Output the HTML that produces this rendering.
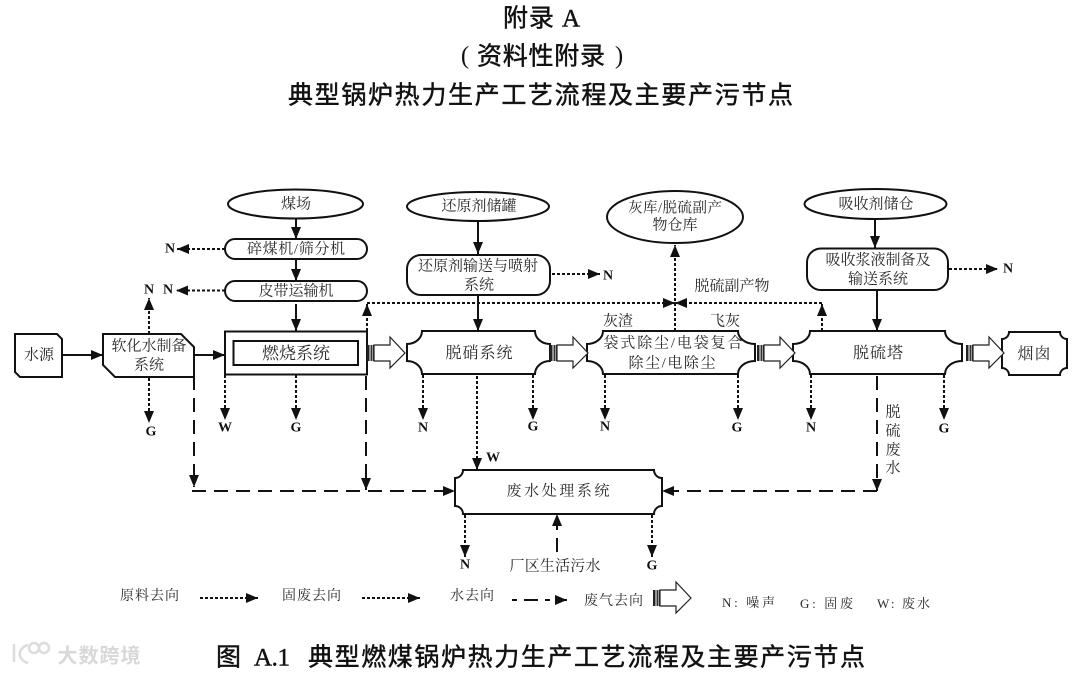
<!DOCTYPE html>
<html lang="zh">
<head>
<meta charset="utf-8">
<title>典型锅炉热力生产工艺流程及主要产污节点</title>
<style>
html,body{margin:0;padding:0;background:#fff;width:1080px;height:673px;overflow:hidden}
svg{display:block;filter:blur(.35px)}
text{font-family:"Liberation Serif","Noto Serif CJK SC",serif;fill:#2a2a2a;text-anchor:middle;dominant-baseline:central}
.t{font-size:15px;transform:translateY(1.5px)}
.h{font-family:"Liberation Serif","Noto Sans CJK SC",sans-serif;font-weight:400;fill:#111;stroke:#111;stroke-width:.45px;font-size:25px}
.l{font-size:14px;font-weight:700;fill:#111}
.s{fill:#fff;stroke:#111;stroke-width:2}
.a{fill:none;stroke:#111;stroke-width:2;marker-end:url(#m)}
.d{fill:none;stroke:#111;stroke-width:2;stroke-dasharray:3 2;marker-end:url(#m)}
.w{fill:none;stroke:#111;stroke-width:2;stroke-dasharray:14 8;marker-end:url(#m)}
</style>
</head>
<body>
<svg width="1080" height="673" viewBox="0 0 1080 673" xmlns="http://www.w3.org/2000/svg">
<defs>
<marker id="m" markerUnits="userSpaceOnUse" markerWidth="14" markerHeight="12" refX="12" refY="5" orient="auto">
<path d="M0 0L12 5L0 10z" fill="#111"/>
</marker>
<g id="big">
<rect x="0" y="-8" width="2.500" height="16" fill="#222"/>
<rect x="3.500" y="-8" width="1.500" height="16" fill="#333"/>
<rect x="5.500" y="-8" width="2" height="16" fill="#333"/>
<path d="M7 -8H23V-16L38 0L23 15V8H7z" fill="#fff" stroke="#222" stroke-width="1.200"/>
</g>
</defs>

<!-- titles -->
<text class="h" x="541.500" y="19" textLength="77">附录 A</text>
<text class="h" x="465" y="56" style="stroke:none">(</text>
<text class="h" x="541" y="57" textLength="128">资料性附录</text>
<text class="h" x="619" y="56" style="stroke:none">)</text>
<text class="h" x="540.500" y="96" textLength="505">典型锅炉热力生产工艺流程及主要产污节点</text>
<text class="h" x="228.500" y="658">图</text>
<text class="h" x="272" y="658" textLength="36">A.1</text>
<text class="h" x="586.500" y="658" textLength="557">典型燃煤锅炉热力生产工艺流程及主要产污节点</text>

<!-- connectors -->
<path class="a" d="M296 218V239"/>
<path class="a" d="M296 259V281"/>
<path class="a" d="M296 304V331"/>
<path class="a" d="M62 355H103"/>
<path class="a" d="M194 355H225"/>
<path class="a" d="M478 222V254"/>
<path class="a" d="M478 295V331"/>
<path class="a" d="M875 219V248"/>
<path class="a" d="M877 290V331"/>

<path class="d" d="M225 249H177"/>
<path class="d" d="M225 290.500H176"/>
<path class="d" d="M149 334V298"/>
<path class="d" d="M149 378V423"/>
<path class="d" d="M225 375V420"/>
<path class="d" d="M296 375V420"/>
<path class="d" d="M423 375V420"/>
<path class="d" d="M533 375V420"/>
<path class="d" d="M605 375V420"/>
<path class="d" d="M738 375V420"/>
<path class="d" d="M811 375V420"/>
<path class="d" d="M944 375V420"/>
<path class="d" d="M477 376V470"/>
<path class="d" d="M552 274H600"/>
<path class="d" d="M949 269H998"/>
<path class="d" d="M367 331V304"/>
<path class="d" d="M367 303H675"/>
<path class="d" d="M822 303H675"/>
<path class="d" d="M822 331V304"/>
<path class="d" d="M675 331V245"/>
<path class="d" d="M465 515V557"/>
<path class="d" d="M652 515V557"/>

<path class="w" d="M194 376V487"/>
<path class="w" d="M366 376V490"/>
<path class="w" d="M877 376V491"/>
<path class="w" d="M192 491H455"/>
<path class="w" d="M877 491H662"/>
<path class="w" d="M557 552V514"/>

<!-- nodes -->
<ellipse class="s" cx="295.500" cy="204" rx="67.500" ry="14.500"/>
<rect class="s" x="225" y="239" width="142" height="20" rx="10"/>
<rect class="s" x="225" y="281" width="142" height="20" rx="10"/>
<path class="s" d="M15 334H57L62 339V377H20L15 372z"/>
<path class="s" d="M103 334H181L194 347V377H115L103 365z"/>
<rect class="s" x="225" y="331.500" width="142" height="43"/>
<rect class="s" x="233.500" y="341" width="124.500" height="24"/>

<ellipse class="s" cx="478" cy="206.500" rx="71" ry="14.500"/>
<rect class="s" x="407" y="255" width="143" height="40" rx="14"/>
<ellipse class="s" cx="675" cy="217" rx="68" ry="26"/>
<ellipse class="s" cx="875.500" cy="204" rx="71" ry="15"/>
<rect class="s" x="807" y="248.500" width="141" height="41.500" rx="14"/>

<path class="s" d="M422 331H535A15 13 0 0 0 550 344V361A15 13 0 0 0 535 374H422A15 13 0 0 0 407 361V344A15 13 0 0 0 422 331z"/>
<path class="s" d="M603 331H738A17 13 0 0 0 755 344V361A17 13 0 0 0 738 374H603A16 13 0 0 0 587 361V344A16 13 0 0 0 603 331z"/>
<path class="s" d="M810 331H945A17 13 0 0 0 962 344V361A17 13 0 0 0 945 374H810A17 13 0 0 0 793 361V344A17 13 0 0 0 810 331z"/>
<path class="s" d="M1009 332H1060A7 7 0 0 0 1067 339V368A7 7 0 0 0 1060 375H1009A7 7 0 0 0 1002 368V339A7 7 0 0 0 1009 332z"/>
<path class="s" d="M463 470H654A8 8 0 0 0 662 478V506A8 8 0 0 0 654 514H463A8 8 0 0 0 455 506V478A8 8 0 0 0 463 470z"/>

<use href="#big" x="367" y="353"/>
<use href="#big" x="550" y="353"/>
<use href="#big" x="757" y="353"/>
<use href="#big" x="966" y="353"/>

<!-- node labels -->
<text class="t" x="296" y="203" textLength="30">煤场</text>
<text class="t" x="296" y="248" textLength="98">碎煤机/筛分机</text>
<text class="t" x="296" y="290" textLength="75">皮带运输机</text>
<text class="t" x="39" y="354" textLength="30">水源</text>
<text class="t" x="149" y="345" textLength="75">软化水制备</text>
<text class="t" x="149" y="364" textLength="30">系统</text>
<text class="t" x="296" y="352" textLength="68" style="font-size:17px">燃烧系统</text>
<text class="t" x="479" y="205" textLength="75">还原剂储罐</text>
<text class="t" x="478" y="265" textLength="120">还原剂输送与喷射</text>
<text class="t" x="479" y="284" textLength="30">系统</text>
<text class="t" x="675" y="207" textLength="94" style="font-size:14.500px">灰库/脱硫副产</text>
<text class="t" x="675" y="224" textLength="45">物仓库</text>
<text class="t" x="732" y="285" textLength="75">脱硫副产物</text>
<text class="t" x="618" y="320" textLength="30">灰渣</text>
<text class="t" x="725" y="320" textLength="30">飞灰</text>
<text class="t" x="673" y="342" textLength="139">袋式除尘/电袋复合</text>
<text class="t" x="672" y="362" textLength="87">除尘/电除尘</text>
<text class="t" x="479" y="352" textLength="67" style="font-size:16px">脱硝系统</text>
<text class="t" x="878" y="352" textLength="50" style="font-size:16px">脱硫塔</text>
<text class="t" x="1034" y="353" textLength="33" style="font-size:16px">烟囱</text>
<text class="t" x="876" y="203" textLength="75">吸收剂储仓</text>
<text class="t" x="878" y="259" textLength="105">吸收浆液制备及</text>
<text class="t" x="878" y="278" textLength="60">输送系统</text>
<text class="t" x="893" y="411">脱</text>
<text class="t" x="893" y="430">硫</text>
<text class="t" x="893" y="449">废</text>
<text class="t" x="893" y="467">水</text>
<text class="t" x="558" y="490" textLength="103">废水处理系统</text>
<text class="t" x="555" y="565" textLength="91">厂区生活污水</text>

<!-- N G W -->
<text class="l" x="170" y="249">N</text>
<text class="l" x="168" y="290">N</text>
<text class="l" x="149" y="290">N</text>
<text class="l" x="151" y="432">G</text>
<text class="l" x="225" y="428">W</text>
<text class="l" x="296" y="428">G</text>
<text class="l" x="423" y="428">N</text>
<text class="l" x="533" y="427">G</text>
<text class="l" x="605" y="427">N</text>
<text class="l" x="737" y="428">G</text>
<text class="l" x="811" y="428">N</text>
<text class="l" x="944" y="429">G</text>
<text class="l" x="608" y="276">N</text>
<text class="l" x="1008" y="269">N</text>
<text class="l" x="493" y="458">W</text>
<text class="l" x="465" y="565">N</text>
<text class="l" x="652" y="566">G</text>

<!-- legend -->
<text class="t" x="149.500" y="595" textLength="59" style="font-size:14px">原料去向</text>
<path class="d" d="M200 598H258"/>
<text class="t" x="311.500" y="595" textLength="59" style="font-size:14px">固废去向</text>
<path class="d" d="M362 598H420"/>
<text class="t" x="472" y="595" textLength="44" style="font-size:14px">水去向</text>
<path class="w" d="M512 600H567" style="stroke-dasharray:5 7 14 7"/>
<text class="t" x="613.500" y="600" textLength="59" style="font-size:14px">废气去向</text>
<use href="#big" x="653" y="598"/>
<text class="t" x="748.500" y="601" textLength="53" style="font-size:13px">N: 噪声</text>
<text class="t" x="826.500" y="602" textLength="53" style="font-size:13px">G: 固废</text>
<text class="t" x="903.500" y="602" textLength="53" style="font-size:13px">W: 废水</text>

<!-- watermark -->
<g fill="none" stroke="#dcdcdc" stroke-width="2.500">
<path d="M14 644V662"/>
<path d="M28 645C17 648 17 660 28 663"/>
<circle cx="34" cy="648" r="5"/>
<circle cx="44" cy="648" r="5"/>
</g>
<text x="99" y="654" textLength="83" style="font-family:'Noto Sans CJK SC',sans-serif;font-size:20px;fill:#d8d8d8;font-weight:700">大数跨境</text>
</svg>
</body>
</html>
